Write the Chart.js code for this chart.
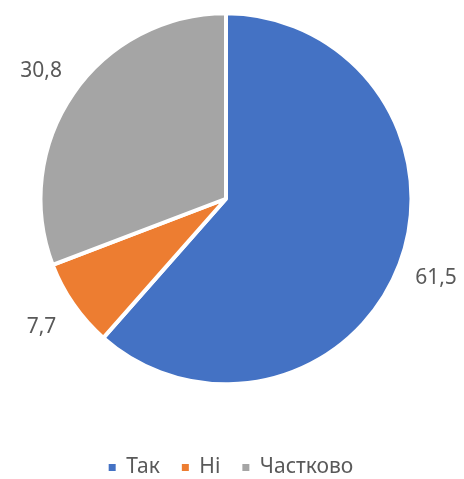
<!DOCTYPE html>
<html lang="uk">
<head>
    <meta charset="UTF-8">
    <title>Pie</title>
    <style>
        html, body { margin: 0; padding: 0; background: #ffffff; overflow: hidden; }
        .wrap { width: 464px; height: 488px; }
    </style>
    <script src="https://cdn.jsdelivr.net/npm/chart.js"></script>
</head>
<body>
    <div class="wrap"><canvas id="pieChart" width="464" height="488"></canvas></div>
    <script>
        const categories = ['Так', 'Ні', 'Частково'];
        const values = [61.5, 7.7, 30.8];
        const valueLabels = ['61,5', '7,7', '30,8'];
        const colors = ['#4472C4', '#ED7D31', '#A5A5A5'];

        const FONT = '"Noto Sans", sans-serif';

        // value labels outside each slice
        const outsideLabels = {
            id: 'outsideLabels',
            afterDatasetsDraw(chart) {
                const ctx = chart.ctx;
                const meta = chart.getDatasetMeta(0);
                ctx.save();
                ctx.font = '21px ' + FONT;
                ctx.fillStyle = '#595959';
                ctx.textAlign = 'center';
                ctx.textBaseline = 'middle';
                meta.data.forEach(function(arc, i) {
                    const p = arc.getProps(['x', 'y', 'startAngle', 'endAngle', 'outerRadius'], true);
                    const mid = (p.startAngle + p.endAngle) / 2;
                    const r = p.outerRadius + 39;
                    ctx.fillText(valueLabels[i], p.x + Math.cos(mid) * r, p.y + Math.sin(mid) * r);
                });
                ctx.restore();
            }
        };

        // nudge the legend a little to the right
        const legendShift = {
            id: 'legendShift',
            afterLayout(chart) {
                if (chart.legend) {
                    chart.legend.left += 5;
                    chart.legend.right += 5;
                }
            }
        };

        new Chart(document.getElementById('pieChart'), {
            type: 'pie',
            data: {
                labels: categories,
                datasets: [{
                    data: values,
                    backgroundColor: colors,
                    borderColor: '#ffffff',
                    borderWidth: 4
                }]
            },
            options: {
                responsive: false,
                animation: false,
                layout: { padding: { top: 11, left: 38.5, right: 50.5, bottom: 0 } },
                plugins: {
                    tooltip: { enabled: false },
                    legend: {
                        position: 'bottom',
                        title: {
                            display: true,
                            text: '',
                            font: { size: 10, lineHeight: 1 },
                            padding: { top: 38.5, bottom: 0 }
                        },
                        labels: {
                            boxWidth: 7,
                            boxHeight: 7,
                            padding: 22,
                            color: '#595959',
                            font: { size: 21, family: FONT },
                            generateLabels(chart) {
                                const items = Chart.overrides.pie.plugins.legend.labels.generateLabels(chart);
                                items.forEach(function(item) { item.lineWidth = 0; });
                                return items;
                            }
                        }
                    }
                }
            },
            plugins: [outsideLabels, legendShift]
        });
    </script>
</body>
</html>
